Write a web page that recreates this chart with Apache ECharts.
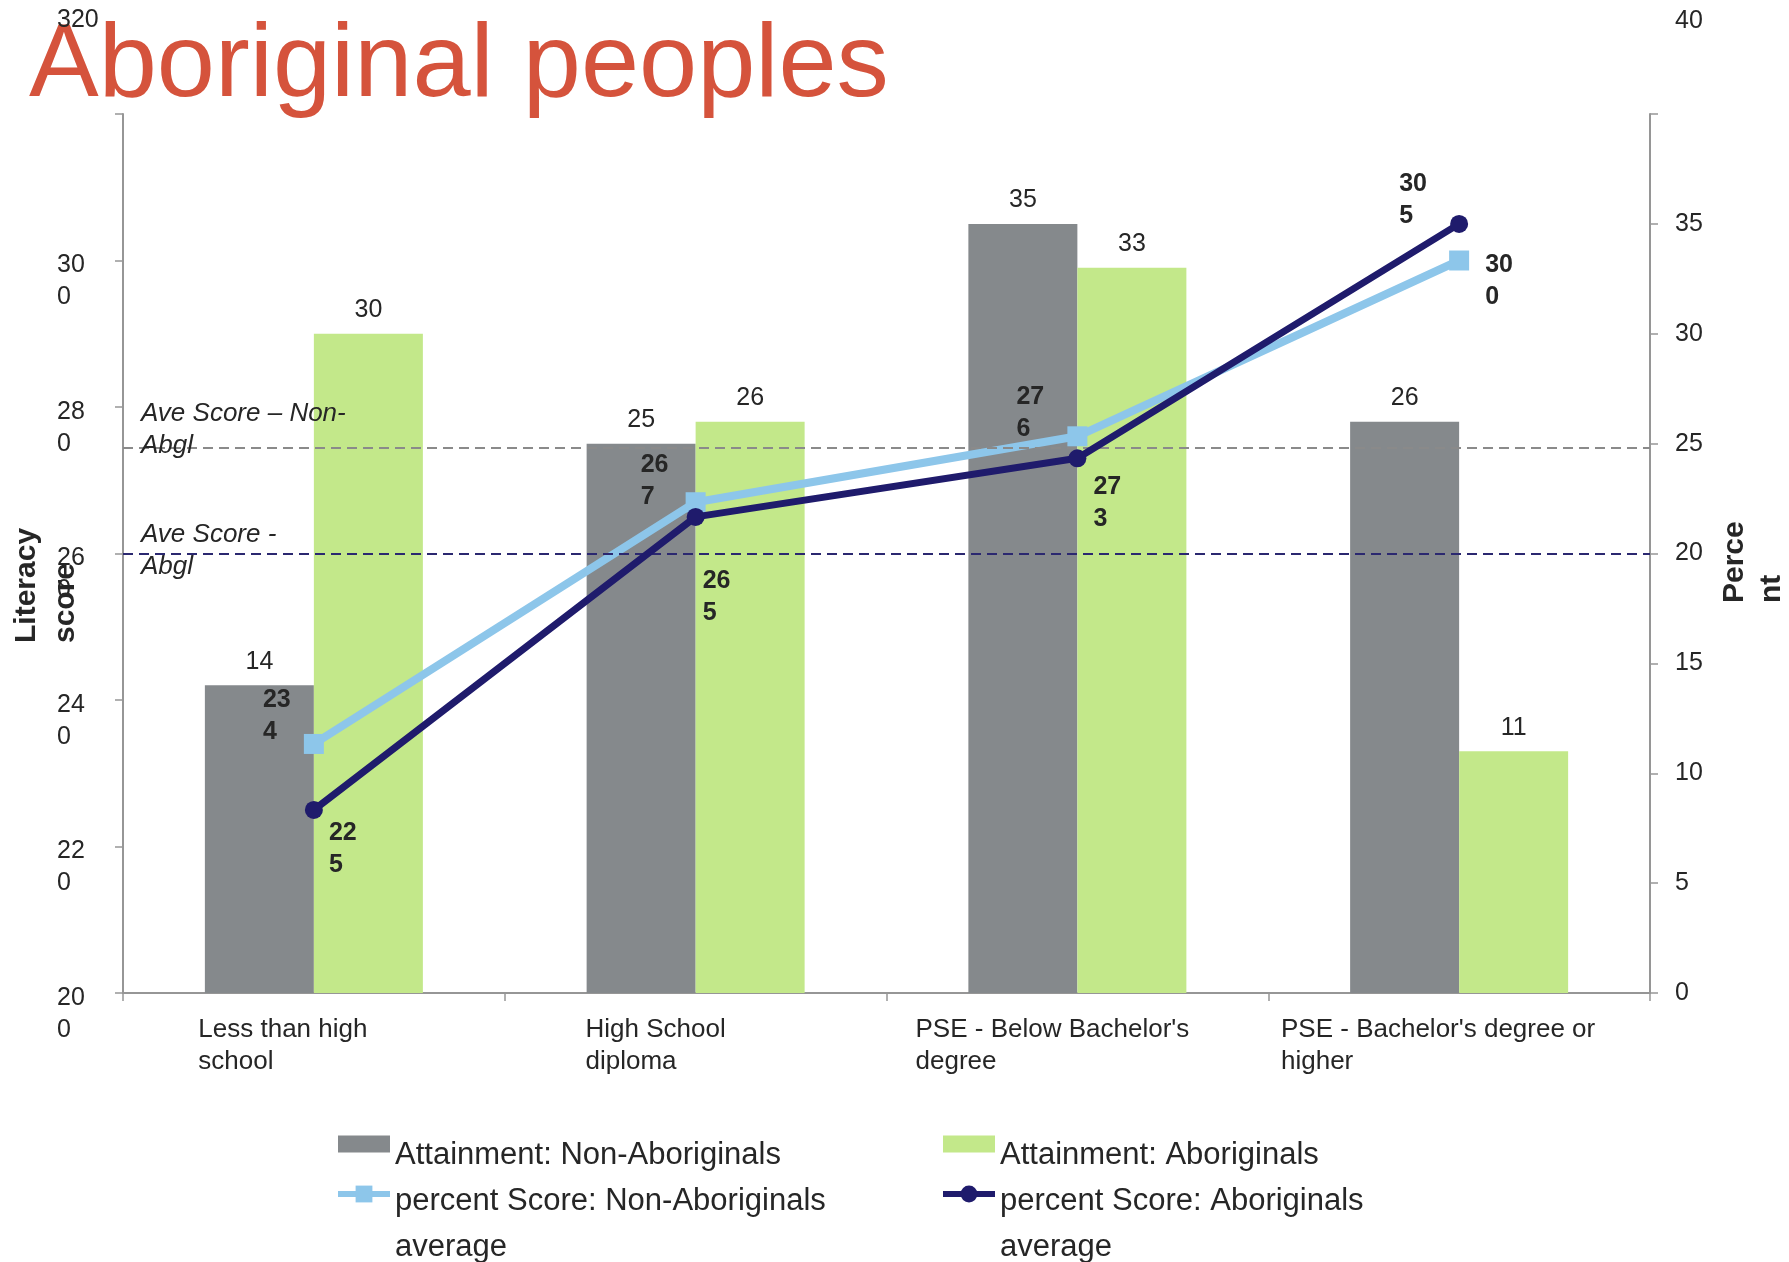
<!DOCTYPE html>
<html>
<head>
<meta charset="utf-8">
<title>Aboriginal peoples</title>
<script src="https://cdn.jsdelivr.net/npm/echarts@6/dist/echarts.min.js"></script>
<style>
  html, body { margin: 0; padding: 0; background: #ffffff; }
  #chart { width: 1789px; height: 1262px; }
</style>
</head>
<body>
<div id="chart"></div>
<script>
// Education levels (line breaks as printed under the axis)
const categories = [
  'Less than high\nschool',
  'High School\ndiploma',
  "PSE - Below Bachelor's\ndegree",
  "PSE - Bachelor's degree or\nhigher"
];

// Attainment, percent (right axis)
const attainmentNonAboriginal = [14, 25, 35, 26];
const attainmentAboriginal = [30, 26, 33, 11];

// Average literacy score (left axis)
const scoreNonAboriginal = [234, 267, 276, 300];
const scoreAboriginal = [225, 265, 273, 305];

// Overall average literacy scores (dashed reference lines)
const aveScoreNonAboriginal = 274.5;
const aveScoreAboriginal = 260;

// Axis tick values
const scoreTicks = [200, 220, 240, 260, 280, 300, 320];
const percentTicks = [0, 5, 10, 15, 20, 25, 30, 35, 40];

const NAMES = {
  barNon: 'Attainment: Non-Aboriginals',
  barAb: 'Attainment: Aboriginals',
  lineNon: 'percent Score: Non-Aboriginals average',
  lineAb: 'percent Score: Aboriginals average'
};

const COLORS = {
  title: '#d5533c',
  text: '#262626',
  axis: '#969696',
  barNon: '#85898c',
  barAb: '#c3e88a',
  lineNon: '#8dc6ea',
  lineAb: '#1f1b6c',
  aveNon: '#8a8a8a',
  aveAb: '#2b2870'
};

const FONT = '"Liberation Sans", Arial, Helvetica, sans-serif';

// Where each point's value label sits, relative to the marker centre (left, top)
const nonAbLabelAt = [[-51, -60], [-55, -53], [-61, -55], [26, -11]];
const abLabelAt = [[15, 7], [7, 48], [16, 13], [-60, -56]];

// How far each category caption block sits left of its category centre
const captionShift = [31, 40, 25, 21];

const SQUARE = 20;
const DOT = 18;

// Scores are printed split after the second digit, e.g. "23" / "4"
const splitNumber = v => {
  const s = String(v);
  return s.slice(0, 2) + '\n' + s.slice(2);
};

const withLabels = (values, offsets, size) => values.map((v, i) => ({
  value: v,
  label: { position: [offsets[i][0] + size / 2, offsets[i][1] + size / 2] }
}));

const scoreMin = scoreTicks[0];
const scoreMax = scoreTicks[scoreTicks.length - 1];
const scoreStep = scoreTicks[1] - scoreTicks[0];
const pctMin = percentTicks[0];
const pctMax = percentTicks[percentTicks.length - 1];
const pctStep = percentTicks[1] - percentTicks[0];

const chart = echarts.init(document.getElementById('chart'), null, { renderer: 'canvas' });

const barLabel = {
  show: true,
  position: 'top',
  distance: 11,
  fontSize: 25,
  color: COLORS.text,
  fontFamily: FONT
};

const pointLabel = {
  show: true,
  fontSize: 25,
  fontWeight: 'bold',
  lineHeight: 32,
  color: COLORS.text,
  fontFamily: FONT,
  formatter: p => splitNumber(p.value)
};

// Legend captions: a spacer line first so the text sits a little below the key
const legendRich = (gap) => ({
  gap: { lineHeight: gap },
  t: { fontSize: 31, lineHeight: 46, color: COLORS.text, fontFamily: FONT }
});

const legendBase = {
  orient: 'vertical',
  padding: 0,
  itemWidth: 52,
  selectedMode: false,
  lineStyle: { width: 6 }
};

const oneLine = n => '{gap|}\n{t|' + n + '}';
const twoLines = n => '{gap|}\n{t|' + n.replace(' average', '}\n{t|average') + '}';

const option = {
  animation: false,
  backgroundColor: '#ffffff',
  textStyle: { fontFamily: FONT },
  title: {
    text: 'Aboriginal peoples',
    left: 29,
    top: 15,
    padding: 0,
    textStyle: { fontSize: 104.5, fontWeight: 'normal', color: COLORS.title, fontFamily: FONT }
  },
  grid: { left: 123, right: 139, top: 114, bottom: 269, containLabel: false, outerBoundsMode: 'none' },
  xAxis: {
    type: 'category',
    data: categories.map((c, i) => ({ value: c, textStyle: { padding: [0, captionShift[i] * 2, 0, 0] } })),
    axisLine: { show: true, lineStyle: { color: COLORS.axis, width: 2 } },
    axisTick: { show: true, length: 8, lineStyle: { color: COLORS.axis, width: 1.5 } },
    axisLabel: {
      interval: 0,
      margin: 21,
      color: COLORS.text,
      formatter: v => v.split('\n').map(s => '{c|' + s + '}').join('\n'),
      rich: { c: { fontSize: 26, lineHeight: 32, color: COLORS.text, fontFamily: FONT, align: 'left' } }
    },
    splitLine: { show: false }
  },
  yAxis: [
    {
      type: 'value',
      position: 'left',
      min: scoreMin,
      max: scoreMax,
      interval: scoreStep,
      axisLine: { show: true, lineStyle: { color: COLORS.axis, width: 2 } },
      axisTick: { show: true, length: 8, lineStyle: { color: COLORS.axis, width: 1.5 } },
      axisLabel: {
        margin: 66,
        align: 'left',
        verticalAlign: 'middle',
        color: COLORS.text,
        // top padding drops the first row level with its tick
        padding: [42, 0, 0, 0],
        formatter: v => (v === scoreMax ? '' : splitNumber(v).split('\n').map(s => '{n|' + s + '}').join('\n')),
        rich: { n: { fontSize: 25, lineHeight: 32, color: COLORS.text, fontFamily: FONT, align: 'left' } }
      },
      splitLine: { show: false }
    },
    {
      type: 'value',
      position: 'right',
      min: pctMin,
      max: pctMax,
      interval: pctStep,
      axisLine: { show: true, lineStyle: { color: COLORS.axis, width: 2 } },
      axisTick: { show: true, length: 8, lineStyle: { color: COLORS.axis, width: 1.5 } },
      axisLabel: {
        margin: 25,
        fontSize: 25,
        color: COLORS.text,
        formatter: v => (v === pctMax ? '' : String(v))
      },
      splitLine: { show: false }
    }
  ],
  legend: [
    Object.assign({}, legendBase, {
      left: 338, top: 1115, itemHeight: 17,
      formatter: oneLine,
      textStyle: { rich: legendRich(22) },
      data: [{ name: NAMES.barNon, icon: 'rect' }]
    }),
    Object.assign({}, legendBase, {
      left: 943, top: 1115, itemHeight: 17,
      formatter: oneLine,
      textStyle: { rich: legendRich(22) },
      data: [{ name: NAMES.barAb, icon: 'rect' }]
    }),
    Object.assign({}, legendBase, {
      left: 335, top: 1142, itemHeight: 21,
      formatter: twoLines,
      textStyle: { rich: legendRich(60) },
      data: [{ name: NAMES.lineNon }]
    }),
    Object.assign({}, legendBase, {
      left: 940, top: 1142, itemHeight: 21,
      formatter: twoLines,
      textStyle: { rich: legendRich(60) },
      data: [{ name: NAMES.lineAb }]
    })
  ],
  graphic: [
    // Top tick values sit up beside the heading
    {
      type: 'text', x: 57, y: 20, z: 100,
      style: { text: String(scoreMax), font: '25px ' + FONT, fill: COLORS.text, verticalAlign: 'middle', align: 'left' }
    },
    {
      type: 'text', x: 1675, y: 21, z: 100,
      style: { text: String(pctMax), font: '25px ' + FONT, fill: COLORS.text, verticalAlign: 'middle', align: 'left' }
    },
    // Axis titles, reading bottom to top
    {
      type: 'text', x: 7, y: 643, rotation: Math.PI / 2, z: 100,
      style: { text: 'Literacy\nscore', font: 'bold 30px ' + FONT, lineHeight: 39, fill: COLORS.text, align: 'left', verticalAlign: 'top' }
    },
    {
      type: 'text', x: 1716, y: 603, rotation: Math.PI / 2, z: 100,
      style: { text: 'Perce\nnt', font: 'bold 30px ' + FONT, lineHeight: 37, fill: COLORS.text, align: 'left', verticalAlign: 'top' }
    }
  ],
  series: [
    {
      name: NAMES.barNon,
      type: 'bar',
      yAxisIndex: 1,
      data: attainmentNonAboriginal,
      barWidth: 109,
      barGap: '0%',
      itemStyle: { color: COLORS.barNon },
      label: barLabel
    },
    {
      name: NAMES.barAb,
      type: 'bar',
      yAxisIndex: 1,
      data: attainmentAboriginal,
      barWidth: 109,
      barGap: '0%',
      itemStyle: { color: COLORS.barAb },
      label: barLabel
    },
    {
      name: NAMES.lineNon,
      type: 'line',
      yAxisIndex: 0,
      data: withLabels(scoreNonAboriginal, nonAbLabelAt, SQUARE),
      symbol: 'rect',
      symbolSize: SQUARE,
      showAllSymbol: true,
      lineStyle: { color: COLORS.lineNon, width: 8 },
      itemStyle: { color: COLORS.lineNon },
      label: pointLabel,
      z: 3,
      markLine: {
        silent: true,
        symbol: 'none',
        z: 4,
        data: [
          {
            yAxis: aveScoreNonAboriginal,
            lineStyle: { color: COLORS.aveNon, type: [10, 6], width: 2 },
            label: {
              show: true,
              position: 'insideStartTop',
              distance: [18, -14],
              formatter: 'Ave Score \u2013 Non-\nAbgl',
              fontStyle: 'italic',
              fontSize: 26,
              lineHeight: 32,
              color: COLORS.text,
              fontFamily: FONT
            }
          },
          {
            yAxis: aveScoreAboriginal,
            lineStyle: { color: COLORS.aveAb, type: [10, 6], width: 2 },
            label: {
              show: true,
              position: 'insideStartTop',
              distance: [18, -29],
              formatter: 'Ave Score -\nAbgl',
              fontStyle: 'italic',
              fontSize: 26,
              lineHeight: 32,
              color: COLORS.text,
              fontFamily: FONT
            }
          }
        ]
      }
    },
    {
      name: NAMES.lineAb,
      type: 'line',
      yAxisIndex: 0,
      data: withLabels(scoreAboriginal, abLabelAt, DOT),
      symbol: 'circle',
      symbolSize: DOT,
      showAllSymbol: true,
      lineStyle: { color: COLORS.lineAb, width: 7 },
      itemStyle: { color: COLORS.lineAb },
      label: pointLabel,
      z: 4
    }
  ]
};

chart.setOption(option);
</script>
</body>
</html>
